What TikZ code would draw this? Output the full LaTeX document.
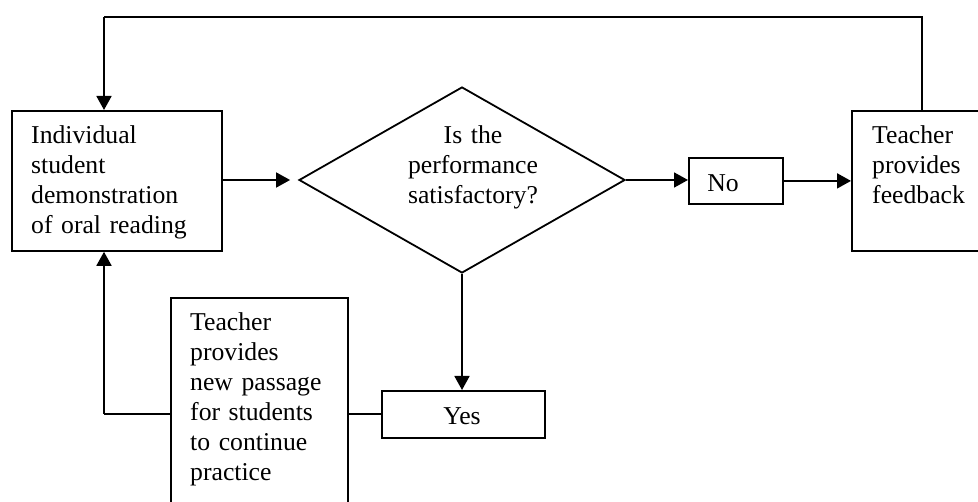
\documentclass[tikz,border=0pt]{standalone}
\usepackage{fontspec}
\setmainfont{Liberation Serif}
\usetikzlibrary{shapes.geometric,arrows.meta}
\begin{document}
\begin{tikzpicture}[x=1pt,y=-1pt,
  box/.style={draw,line width=1.8pt,inner sep=0pt,anchor=north west},
  txt/.style={inner sep=0pt,anchor=base west,text width=#1,align=left,
    font=\fontsize{25.7}{30}\selectfont},
  ctxt/.style={inner sep=0pt,anchor=base,text width=#1,align=center,
    font=\fontsize{25.7}{30}\selectfont},
  arr/.style={line width=1.8pt,-{Triangle[length=14pt,width=15pt]}},
  ln/.style={line width=1.8pt}]
\useasboundingbox (0,0) rectangle (978,502);
% boxes
\node[box,minimum width=210pt,minimum height=140pt] (box1) at (11,110) {};
\node[draw,diamond,line width=1.8pt,inner sep=0pt,minimum width=326pt,minimum height=186pt] (dia) at (462,180) {};
\node[box,minimum width=94pt,minimum height=46pt] (no) at (688,157) {};
\node[box,minimum width=130pt,minimum height=140pt] (fb) at (851,110) {};
\node[box,minimum width=177pt,minimum height=215pt] (np) at (170,297) {};
\node[box,minimum width=163pt,minimum height=47pt] (yes) at (381,390) {};
% texts
\node[txt=190pt] (t1) at (31,144) {Individual\\student\\demonstration\\of oral reading};
\node[ctxt=180pt] (t2) at (473,144) {Is the\\performance\\satisfactory?};
\node[ctxt=60pt] (t3) at (723,192) {No};
\node[txt=110pt] (t4) at (872,144) {Teacher\\provides\\feedback};
\node[txt=160pt] (t5) at (190,331) {Teacher\\provides\\new passage\\for students\\to continue\\practice};
\node[ctxt=80pt] (t6) at (462,425) {Yes};
% connectors
\coordinate (fbtop) at (922,110);
\coordinate (topL) at (104,17);
\coordinate (botL) at (104,414);
\draw[arr,shorten >=8pt] (box1.east |- dia.west) -- (dia.west);
\draw[arr] (dia.east) -- (dia.east -| no.west);
\draw[arr] (no.east) -- (no.east -| fb.west);
\draw[ln] (fbtop) |- (topL);
\draw[arr] (topL) -- (topL |- box1.north);
\draw[arr] (dia.south) -- (dia.south |- yes.north);
\draw[ln] (yes.west) -- (yes.west -| np.east);
\draw[ln] (np.west |- botL) -- (botL);
\draw[arr] (botL) -- (botL |- box1.south);
\end{tikzpicture}
\end{document}
